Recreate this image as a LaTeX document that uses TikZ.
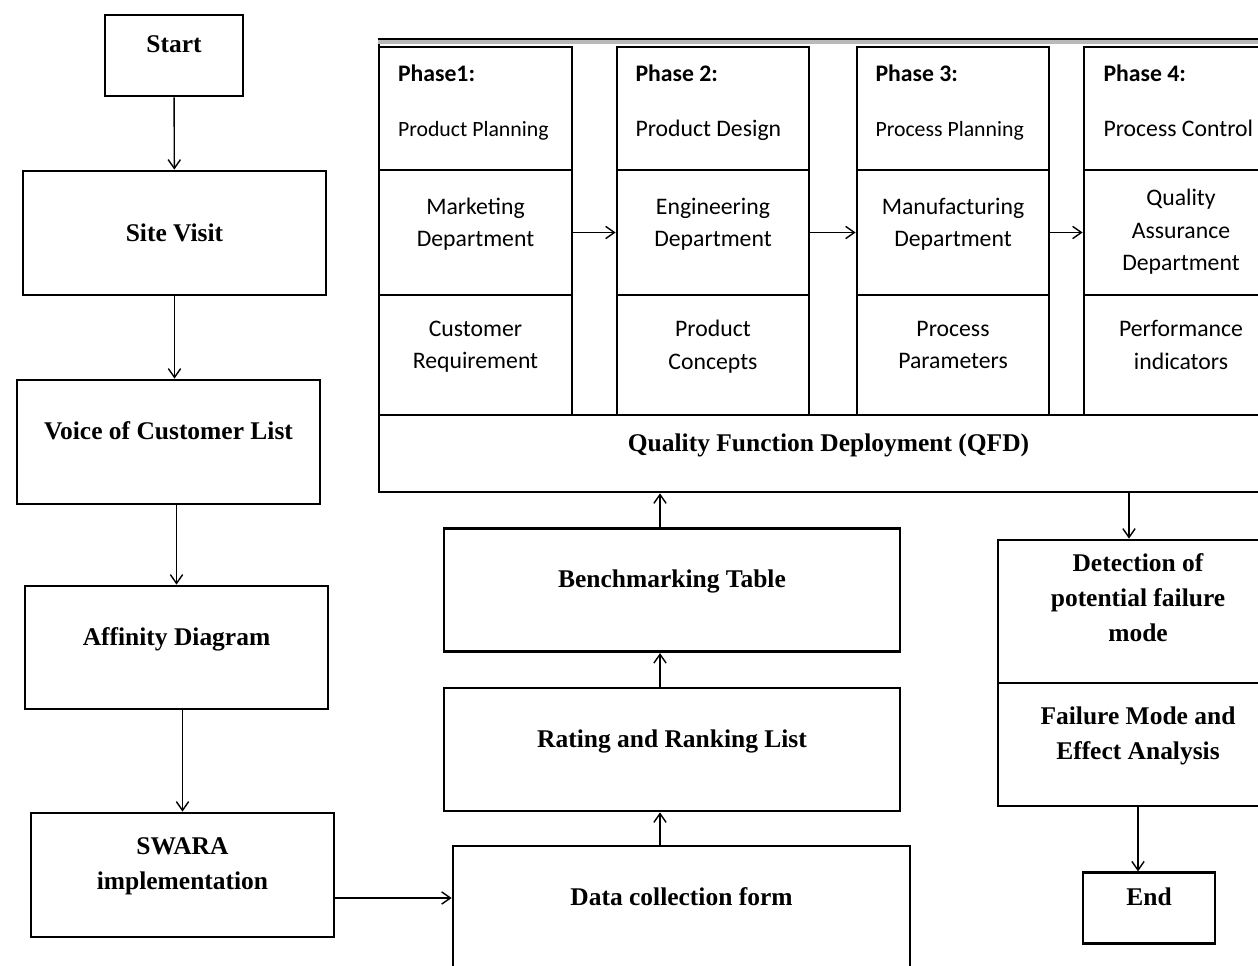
\documentclass[tikz,border=0pt]{standalone}
\usepackage{fontspec}
\setmainfont{Liberation Serif}
\newfontfamily\carlito{Carlito}
\usetikzlibrary{arrows.meta, positioning, calc}

\begin{document}
\begin{tikzpicture}[x=0.02cm, y=-0.02cm, ->, >={Straight Barb[length=5pt,width=7pt]}, thick]
  \tikzstyle{block} = [draw, line width=1.6pt, inner sep=0pt, align=center, font=\bfseries\fontsize{14.5}{20}\selectfont, text depth=0.45cm]
  \tikzstyle{cell} = [draw, line width=1.6pt, inner sep=0pt, align=center, font=\carlito\fontsize{13.5}{18.5}\selectfont, text depth=0.4cm]
  \tikzstyle{phasehead} = [cell, align=flush left, text width=3.1cm, minimum height=2.46cm, text depth=1.4cm]

  \useasboundingbox (0,0) rectangle (1258,966);
  \clip (0,0) rectangle (1258,966);

  % left column
  \node[block, minimum width=2.76cm, minimum height=1.62cm] (Start) at (174,55.5) {Start};
  \node[block, minimum width=6.06cm, minimum height=2.48cm, text depth=0pt] (Site) at (174.5,233) {Site Visit};
  \node[block, minimum width=6.06cm, minimum height=2.48cm] (Voice) at (168.5,442) {Voice of Customer List};
  \node[block, minimum width=6.06cm, minimum height=2.46cm] (Affinity) at (176.5,647.5) {Affinity Diagram};
  \node[block, minimum width=6.06cm, minimum height=2.48cm] (Swara) at (182.5,875) {SWARA\\implementation};

  % middle column
  \node[block, minimum width=9.14cm, minimum height=2.48cm] (Data) at (681.5,908) {Data collection form};
  \node[block, minimum width=9.12cm, minimum height=2.46cm] (Rating) at (672,749.5) {Rating and Ranking List};
  \node[block, minimum width=9.12cm, minimum height=2.46cm, above=0.67cm of Rating] (Bench) {Benchmarking Table};

  % QFD frame
  \node[draw, line width=1.6pt, inner sep=0pt, minimum width=17.98cm, minimum height=9.06cm] (QFD) at (828.5,265.5) {};
  \fill[gray!55] ($(QFD.north west)+(0,2)$) rectangle ($(QFD.north east)+(0,6)$);
  \node[block, minimum width=17.98cm, minimum height=1.54cm] (QFDlab) at (828.5,453.5) {Quality Function Deployment (QFD)};

  % phases
  \node[phasehead, minimum width=3.86cm] (P1h) at (475.5,108.5) {\textbf{Phase1:}\\[12.5pt]{\fontsize{12.4}{15}\selectfont Product Planning}};
  \node[cell, minimum width=3.86cm, minimum height=2.5cm] (P1m) at (475.5,232.5) {Marketing\\Department};
  \node[cell, minimum width=3.86cm, minimum height=2.4cm] (P1b) at (475.5,355) {Customer\\Requirement};

  \node[phasehead, minimum width=3.84cm] (P2h) at (713,108.5) {\textbf{Phase 2:}\\[12.5pt]Product Design};
  \node[cell, minimum width=3.84cm, minimum height=2.5cm] (P2m) at (713,232.5) {Engineering\\Department};
  \node[cell, minimum width=3.84cm, minimum height=2.4cm] (P2b) at (713,355) {Product\\Concepts};

  \node[phasehead, minimum width=3.84cm] (P3h) at (953,108.5) {\textbf{Phase 3:}\\[12.5pt]{\fontsize{12.4}{15}\selectfont Process Planning}};
  \node[cell, minimum width=3.84cm, minimum height=2.5cm] (P3m) at (953,232.5) {Manufacturing\\Department};
  \node[cell, minimum width=3.84cm, minimum height=2.4cm] (P3b) at (953,355) {Process\\Parameters};

  \node[phasehead, minimum width=3.88cm] (P4h) at (1181,108.5) {\textbf{Phase 4:}\\[12.5pt]Process Control};
  \node[cell, minimum width=3.88cm, minimum height=2.5cm, text depth=0.1cm] (P4m) at (1181,232.5) {Quality\\Assurance\\Department};
  \node[cell, minimum width=3.88cm, minimum height=2.4cm] (P4b) at (1181,355) {Performance\\indicators};

  % right column
  \node[block, minimum width=5.6cm, minimum height=2.86cm, text depth=0.55cm] (Detect) at (1138,611.5) {Detection of\\potential failure\\mode};
  \node[block, minimum width=5.6cm, minimum height=2.46cm] (Fmea) at (1138,744.5) {Failure Mode and\\Effect Analysis};
  \node[block, minimum width=2.64cm, minimum height=1.42cm, below=1.28cm of Fmea, xshift=0.22cm] (End) {End};

  % connectors
  \coordinate (upx) at (660,0);
  \coordinate (downx) at (1129,0);
  \draw (Start) -- (Site);
  \draw (Site.south) -- (Site.south |- Voice.north);
  \draw (Voice.south -| Affinity.north) -- (Affinity.north);
  \draw (Affinity.south -| Swara.north) -- (Swara.north);
  \draw ($(Swara.east)+(0,23)$) -- ($(Data.west)+(0,-10)$);
  \draw (Data.north -| upx) -- (Rating.south -| upx);
  \draw (Rating.north -| upx) -- (Bench.south -| upx);
  \draw (Bench.north -| upx) -- (QFD.south -| upx);
  \draw (P1m.east) -- (P1m.east -| P2m.west);
  \draw (P2m.east) -- (P2m.east -| P3m.west);
  \draw (P3m.east) -- (P3m.east -| P4m.west);
  \draw (QFD.south -| downx) -- (Detect.north -| downx);
  \draw (Fmea.south) -- (Fmea.south |- End.north);
\end{tikzpicture}
\end{document}
